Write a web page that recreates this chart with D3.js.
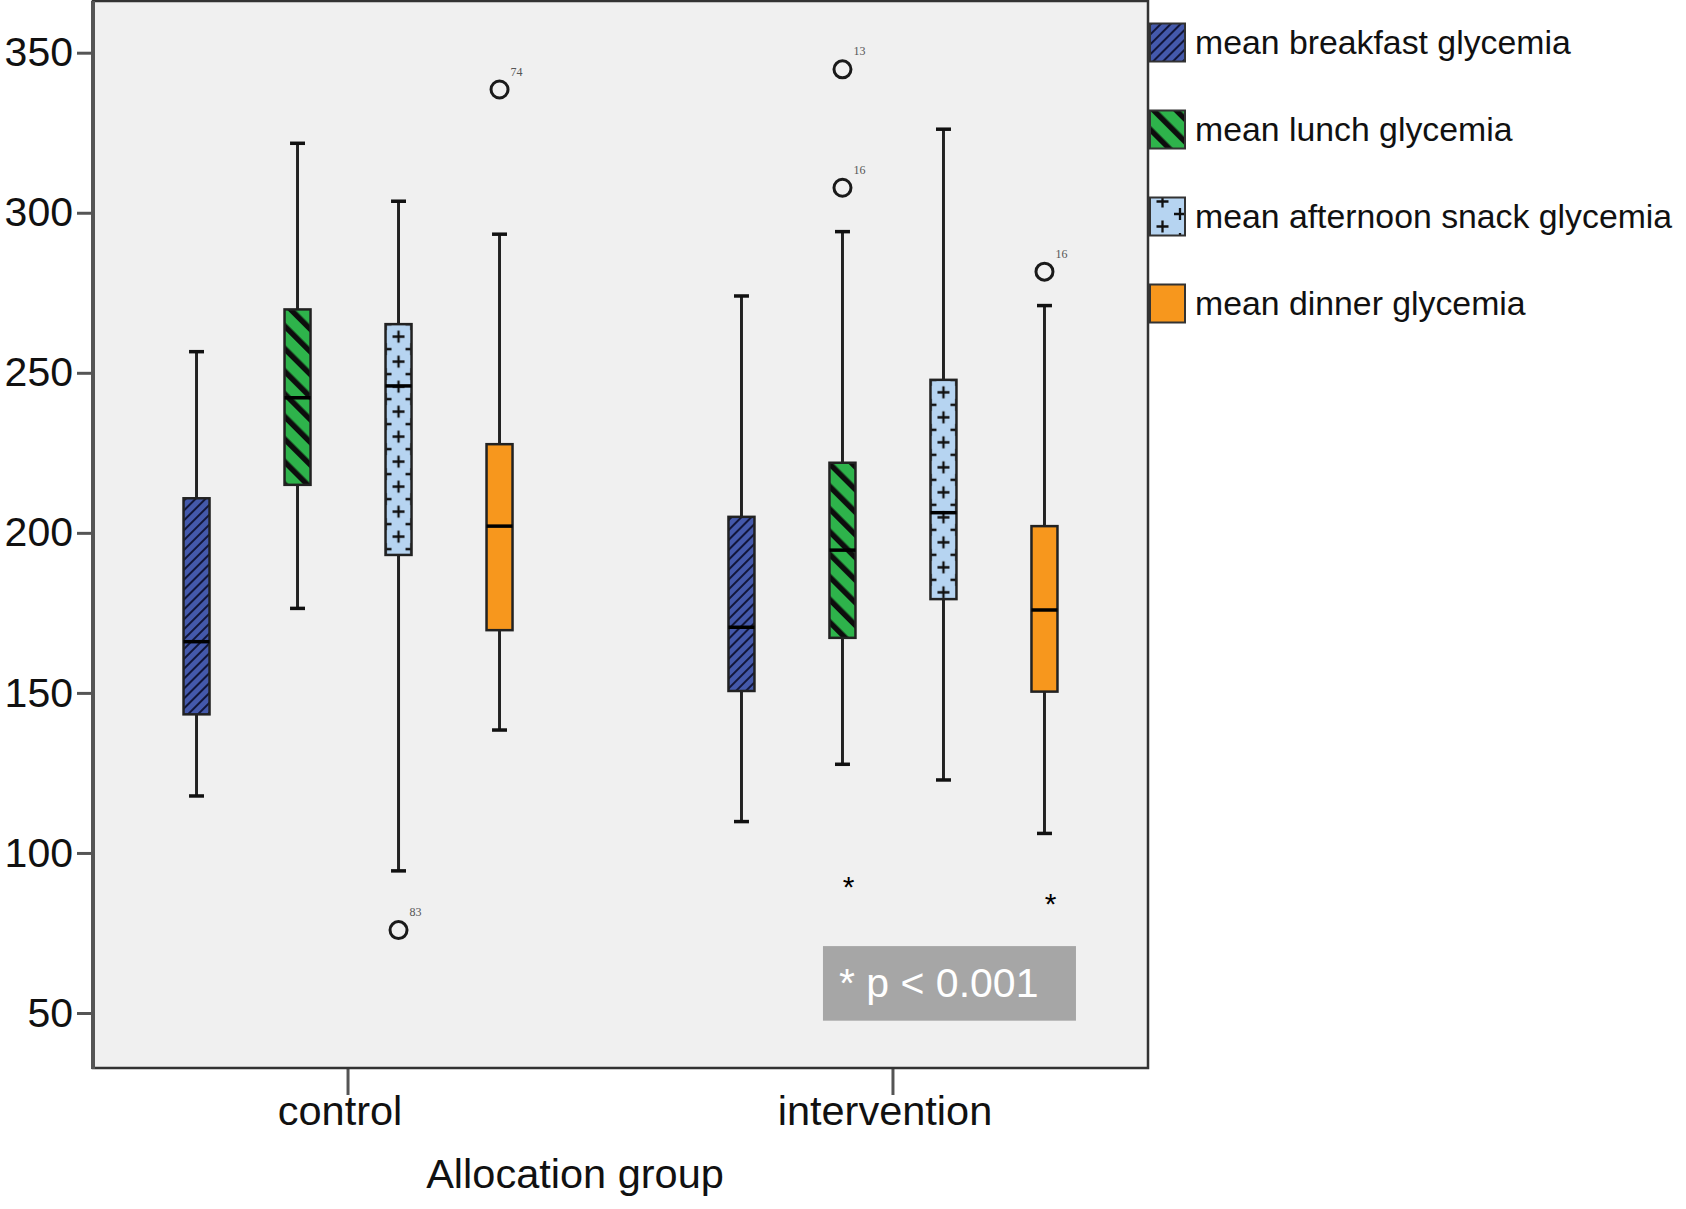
<!DOCTYPE html>
<html>
<head>
<meta charset="utf-8">
<title>Glycemia by allocation group</title>
<script src="https://d3js.org/d3.v7.min.js"></script>
<style>
  body { margin: 0; background: #fff; }
  svg { display: block; font-family: "Liberation Sans", Arial, Helvetica, sans-serif; }
</style>
</head>
<body>
<svg id="chart" width="1686" height="1209"></svg>
<script>
// ---- data ----
var groups = ["control", "intervention"];
var series = ["mean breakfast glycemia", "mean lunch glycemia",
              "mean afternoon snack glycemia", "mean dinner glycemia"];
// [lower whisker, Q1, median, Q3, upper whisker] per series
var controlBoxes = [
    [117.8, 143.3, 166.0, 210.8, 256.6],
    [176.4, 215.0, 242.2, 269.8, 321.7],
    [94.4, 193.1, 245.9, 265.2, 303.6],
    [138.4, 169.6, 202.1, 227.7, 293.3]
];
var interventionBoxes = [
    [109.8, 150.6, 170.5, 205.0, 274.0],
    [127.7, 167.2, 194.6, 221.9, 294.1],
    [122.8, 179.3, 206.3, 247.8, 326.1],
    [106.1, 150.4, 175.9, 202.1, 271.0]
];
// outliers (circles) : group, series index, value, case label
var outlierGroup  = ["control", "control", "intervention", "intervention", "intervention"];
var outlierSeries = [3, 2, 1, 1, 3];
var outlierValue  = [338.5, 75.9, 344.8, 307.8, 281.6];
var outlierLabel  = ["74", "83", "13", "16", "16"];
// extremes (asterisks)
var extremeGroup  = ["intervention", "intervention"];
var extremeSeries = [1, 3];
var extremeValue  = [90.6, 85.3];
var yTicks = [50, 100, 150, 200, 250, 300, 350];
var pNote = "* p < 0.001";

var colors = ["#4459ab", "#2eb34b", "#b6d4f1", "#f7971d"];

// ---- setup ----
var svg = d3.select("#chart");
var defs = svg.append("defs");
var plot = {left: 93, right: 1148, top: 1, bottom: 1068};

var x = d3.scalePoint().domain(groups).range([plot.left, plot.right]).padding(0.468);
var inner = d3.scaleBand().domain(series).range([-202, 202]);
var y = d3.scaleLinear().domain([50, 350]).range([1013, 52.7]);
var boxW = 26;

function makePattern(id, k, x0, y0, w) {
    var p = defs.append("pattern").attr("id", id).attr("patternUnits", "userSpaceOnUse");
    if (k == 0) {
        p.attr("width", 7).attr("height", 7).attr("patternTransform", "rotate(45)");
        p.append("rect").attr("width", 7).attr("height", 7).attr("fill", colors[0]);
        p.append("rect").attr("width", 2).attr("height", 7).attr("fill", "#12163a");
    } else if (k == 1) {
        p.attr("width", 16).attr("height", 16).attr("patternTransform", "rotate(-45)");
        p.append("rect").attr("width", 16).attr("height", 16).attr("fill", colors[1]);
        p.append("rect").attr("width", 5.5).attr("height", 16).attr("fill", "#0d0d0d");
    } else if (k == 2) {
        var h = 25;
        p.attr("x", x0).attr("y", y0).attr("width", w).attr("height", h);
        p.append("rect").attr("width", w).attr("height", h).attr("fill", colors[2]);
        var pts = [[w / 2, h / 2], [0, 0], [w, 0], [0, h], [w, h]];
        pts.forEach(function(c) {
            p.append("path")
                .attr("d", "M" + (c[0] - 6) + "," + c[1] + "H" + (c[0] + 6) +
                           "M" + c[0] + "," + (c[1] - 6) + "V" + (c[1] + 6))
                .attr("stroke", "#111").attr("stroke-width", 2.3);
        });
    } else {
        p.attr("width", 10).attr("height", 10);
        p.append("rect").attr("width", 10).attr("height", 10).attr("fill", colors[3]);
    }
    return "url(#" + id + ")";
}

// plot background
svg.append("rect")
    .attr("x", plot.left).attr("y", plot.top)
    .attr("width", plot.right - plot.left).attr("height", plot.bottom - plot.top)
    .attr("fill", "#f0f0f0");

// y axis
var yAxis = svg.append("g")
    .attr("transform", "translate(" + plot.left + ",0)")
    .call(d3.axisLeft(y).tickValues(yTicks).tickSize(16).tickPadding(4));
yAxis.select(".domain").remove();
yAxis.selectAll(".tick line").attr("stroke", "#555").attr("stroke-width", 3);
yAxis.selectAll(".tick text")
    .attr("font-size", 41).attr("fill", "#111")
    .attr("font-family", "'Liberation Sans', Arial, Helvetica, sans-serif");

// x ticks + labels
var xg = svg.append("g");
xg.selectAll("line").data(groups).enter().append("line")
    .attr("x1", function(d) { return x(d); }).attr("x2", function(d) { return x(d); })
    .attr("y1", plot.bottom).attr("y2", plot.bottom + 27)
    .attr("stroke", "#555").attr("stroke-width", 3);
xg.selectAll("text").data(groups).enter().append("text")
    .attr("x", function(d) { return x(d) - 8; }).attr("y", 1125)
    .attr("text-anchor", "middle").attr("font-size", 41.5).attr("fill", "#111")
    .text(function(d) { return d; });

svg.append("text")
    .attr("x", 575).attr("y", 1188)
    .attr("text-anchor", "middle").attr("font-size", 41.5).attr("fill", "#111")
    .text("Allocation group");

// ---- boxes ----
var rows = [];
groups.forEach(function(g) {
    var stats = g == "control" ? controlBoxes : interventionBoxes;
    series.forEach(function(s, k) {
        var v = stats[k];
        rows.push({group: g, k: k, cx: x(g) + inner(s) + inner.bandwidth() / 2,
                   lo: v[0], q1: v[1], med: v[2], q3: v[3], hi: v[4]});
    });
});

var boxes = svg.append("g").selectAll("g").data(rows).enter().append("g");

boxes.append("line")
    .attr("x1", function(d) { return d.cx; }).attr("x2", function(d) { return d.cx; })
    .attr("y1", function(d) { return y(d.hi); }).attr("y2", function(d) { return y(d.q3); })
    .attr("stroke", "#222").attr("stroke-width", 3);
boxes.append("line")
    .attr("x1", function(d) { return d.cx; }).attr("x2", function(d) { return d.cx; })
    .attr("y1", function(d) { return y(d.q1); }).attr("y2", function(d) { return y(d.lo); })
    .attr("stroke", "#222").attr("stroke-width", 3);
["hi", "lo"].forEach(function(key) {
    boxes.append("line")
        .attr("x1", function(d) { return d.cx - 7.5; }).attr("x2", function(d) { return d.cx + 7.5; })
        .attr("y1", function(d) { return y(d[key]); }).attr("y2", function(d) { return y(d[key]); })
        .attr("stroke", "#111").attr("stroke-width", 3.5);
});
boxes.append("rect")
    .attr("x", function(d) { return d.cx - boxW / 2; })
    .attr("y", function(d) { return y(d.q3); })
    .attr("width", boxW)
    .attr("height", function(d) { return y(d.q1) - y(d.q3); })
    .attr("fill", function(d, i) {
        return makePattern("pat" + i, d.k, d.cx - boxW / 2, y(d.q3), boxW);
    })
    .attr("stroke", "#222").attr("stroke-width", 2.5);
boxes.append("line")
    .attr("x1", function(d) { return d.cx - boxW / 2; }).attr("x2", function(d) { return d.cx + boxW / 2; })
    .attr("y1", function(d) { return y(d.med); }).attr("y2", function(d) { return y(d.med); })
    .attr("stroke", "#000").attr("stroke-width", 3.5);

// ---- outliers ----
function boxCenter(g, k) { return x(g) + inner(series[k]) + inner.bandwidth() / 2; }

var outs = outlierValue.map(function(v, i) {
    return {cx: boxCenter(outlierGroup[i], outlierSeries[i]), v: v, label: outlierLabel[i]};
});
var og = svg.append("g").selectAll("g").data(outs).enter().append("g");
og.append("circle")
    .attr("cx", function(d) { return d.cx; }).attr("cy", function(d) { return y(d.v); })
    .attr("r", 8.5).attr("fill", "none").attr("stroke", "#1a1a1a").attr("stroke-width", 3);
og.append("text")
    .attr("x", function(d) { return d.cx + 11; }).attr("y", function(d) { return y(d.v) - 14; })
    .attr("font-size", 12).attr("fill", "#555")
    .attr("font-family", "'Liberation Serif', 'DejaVu Serif', serif")
    .text(function(d) { return d.label; });

var ext = extremeValue.map(function(v, i) {
    return {cx: boxCenter(extremeGroup[i], extremeSeries[i]), v: v};
});
svg.append("g").selectAll("text").data(ext).enter().append("text")
    .attr("x", function(d) { return d.cx + 6; }).attr("y", function(d) { return y(d.v); })
    .attr("dy", "0.45em").attr("text-anchor", "middle")
    .attr("font-size", 30).attr("fill", "#000")
    .text("*");

// ---- p value note ----
var noteX = x("intervention") - 70;
svg.append("rect")
    .attr("x", noteX).attr("y", y(70.9))
    .attr("width", 253).attr("height", y(47.6) - y(70.9))
    .attr("fill", "#a6a6a6");
svg.append("text")
    .attr("x", noteX + 16).attr("y", y(55.1))
    .attr("font-size", 41).attr("fill", "#fff")
    .text(pNote);

// ---- plot frame ----
svg.append("rect")
    .attr("x", plot.left).attr("y", plot.top)
    .attr("width", plot.right - plot.left).attr("height", plot.bottom - plot.top)
    .attr("fill", "none").attr("stroke", "#333").attr("stroke-width", 2.5);
svg.append("line")
    .attr("x1", plot.left).attr("x2", plot.left)
    .attr("y1", plot.top).attr("y2", plot.bottom + 1)
    .attr("stroke", "#555").attr("stroke-width", 4);

// ---- legend ----
var legend = svg.append("g").selectAll("g").data(series).enter().append("g")
    .attr("transform", function(d, i) { return "translate(1150," + (23.5 + i * 87) + ")"; });
legend.append("rect")
    .attr("width", 35).attr("height", 38)
    .attr("fill", function(d, i) { return makePattern("leg" + i, i, 1150, 23.5 + i * 87 - 6, 35); })
    .attr("stroke", "#333").attr("stroke-width", 2);
legend.append("text")
    .attr("x", 45).attr("y", 19).attr("dy", "0.35em")
    .attr("font-size", 33.8).attr("fill", "#111")
    .text(function(d) { return d; });
</script>
</body>
</html>
